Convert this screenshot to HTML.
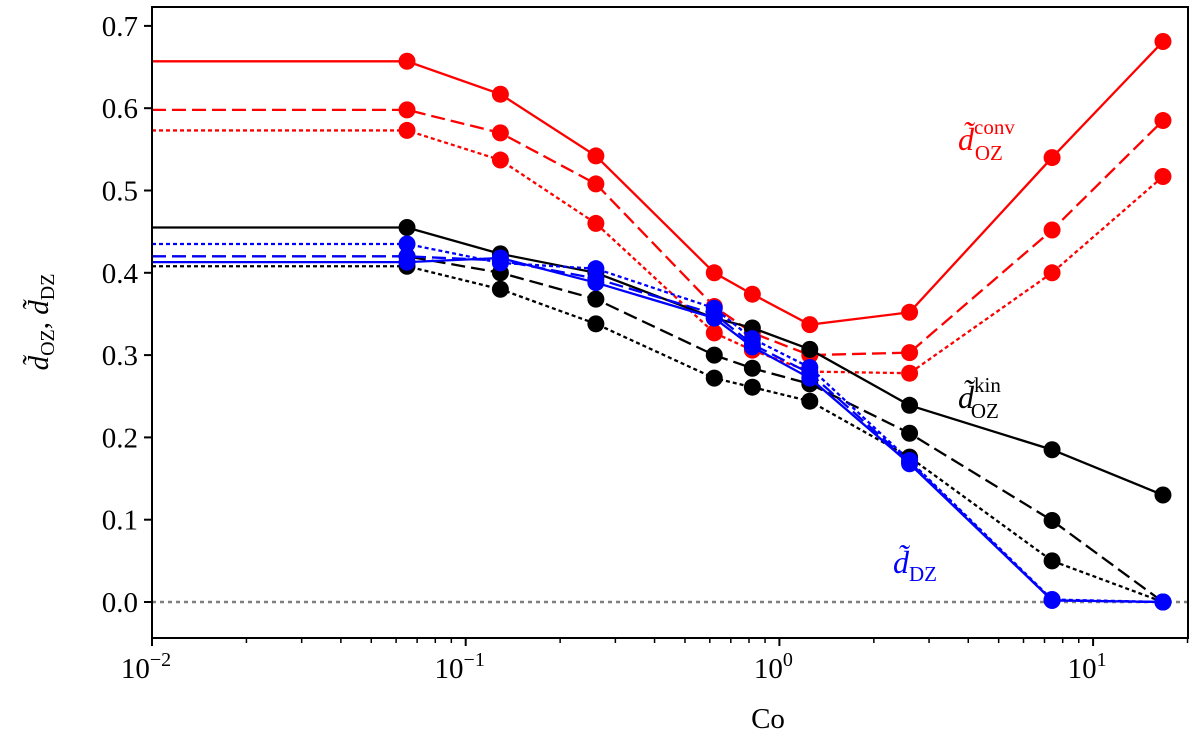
<!DOCTYPE html>
<html><head><meta charset="utf-8"><style>
body{margin:0;background:#fff;}
svg text{font-family:"Liberation Serif",serif;}
</style></head><body>
<svg id="chart" width="1200" height="741" xmlns="http://www.w3.org/2000/svg"></svg>
<script>
const co = [0.065, 0.129, 0.26, 0.62, 0.82, 1.25, 2.6, 7.4, 16.7];
const redSolid  = [0.657,0.617,0.542,0.400,0.374,0.337,0.352,0.540,0.681];
const redDashed = [0.598,0.570,0.508,0.359,0.327,0.300,0.303,0.452,0.585];
const redDotted = [0.573,0.537,0.460,0.327,0.306,0.280,0.278,0.400,0.517];
const blkSolid  = [0.455,0.423,0.400,0.345,0.333,0.307,0.239,0.185,0.130];
const blkDashed = [0.420,0.400,0.368,0.300,0.284,0.265,0.205,0.099,0.000];
const blkDotted = [0.408,0.380,0.338,0.272,0.261,0.244,0.176,0.050,0.000];
const bluSolid  = [0.413,0.418,0.388,0.345,0.310,0.272,0.168,0.002,0.000];
const bluDashed = [0.420,0.415,0.393,0.350,0.313,0.278,0.170,0.002,0.000];
const bluDotted = [0.435,0.412,0.405,0.357,0.320,0.285,0.172,0.003,0.000];
const yTicks = [0.0,0.1,0.2,0.3,0.4,0.5,0.6,0.7];
const yTickLabels = ["0.0","0.1","0.2","0.3","0.4","0.5","0.6","0.7"];
const xDecades = [-2,-1,0,1];

const NS="http://www.w3.org/2000/svg";
const svg=document.getElementById('chart');
const L=152,R=1188,T=7,B=638;
const xs=v=>L+(Math.log10(v)+2)*313.7;
const ys=v=>602-v*823;
function mk(tag,attrs,parent){const e=document.createElementNS(NS,tag);for(const k in attrs)e.setAttribute(k,attrs[k]);(parent||svg).appendChild(e);return e;}

const z=mk('line',{x1:L,x2:R,y1:ys(0),y2:ys(0),stroke:'#808080','stroke-width':2.5,'stroke-dasharray':'4,4'});



const series=[
 ['red-solid',redSolid,'#ff0000',''],['red-dashed',redDashed,'#ff0000','14,6'],['red-dotted',redDotted,'#ff0000','4,3'],
 ['black-solid',blkSolid,'#000',''],['black-dashed',blkDashed,'#000','14,6'],['black-dotted',blkDotted,'#000','4,3'],
 ['blue-solid',bluSolid,'#0000ff',''],['blue-dashed',bluDashed,'#0000ff','14,6'],['blue-dotted',bluDotted,'#0000ff','4,3']];
series.forEach(([name,vals,col,dash])=>{
  const g=mk('g',{});
  
  
  let d='M'+L+','+ys(vals[0]);
  vals.forEach((v,i)=>{d+=' L'+xs(co[i])+','+ys(v);});
  const p=mk('path',{d:d,fill:'none',stroke:col,'stroke-width':2.3,'stroke-dasharray':dash},g);
  
  
  vals.forEach((v,i)=>{
    const c=mk('circle',{cx:xs(co[i]),cy:ys(v),r:8.5,fill:col},g);
    
    
  });
});

const box=mk('rect',{x:L,y:T,width:R-L,height:B-T,fill:'none',stroke:'#000','stroke-width':2});



yTicks.forEach((v,i)=>{
  const y=ys(v);
  const t=mk('line',{x1:L-8,x2:L,y1:y,y2:y,stroke:'#000','stroke-width':2});
  
  
  const tx=mk('text',{x:L-14,y:y+10,'font-size':29,'text-anchor':'end'});
  tx.textContent=yTickLabels[i];
  
  
});
xDecades.forEach(dc=>{
  const x=xs(Math.pow(10,dc));
  const t=mk('line',{x1:x,x2:x,y1:B,y2:B+8,stroke:'#000','stroke-width':2});
  
  
  const tx=mk('text',{x:x-6,y:B+40,'font-size':29,'text-anchor':'middle'});
  tx.textContent='10';
  
  
  const sp=mk('tspan',{dy:-12,'font-size':20},tx);
  sp.textContent=String(dc).replace('-','\u2212');
  for(let m=2;m<=9;m++){
    const xm=xs(m*Math.pow(10,dc));
    if(xm>R)break;
    const mt=mk('line',{x1:xm,x2:xm,y1:B,y2:B+5,stroke:'#000','stroke-width':1.5});
    
    
  }
});
const xl=mk('text',{x:768,y:728,'font-size':29,'text-anchor':'middle'});
xl.textContent='Co';


const yl=mk('text',{x:0,y:0,'font-size':29,'text-anchor':'middle','font-style':'italic',transform:'translate(48,322) rotate(-90)'});
yl.innerHTML='d\u0303<tspan font-style="normal" font-size="20" dy="6">OZ</tspan><tspan dy="-6" font-style="normal">, </tspan>d\u0303<tspan font-style="normal" font-size="20" dy="6">DZ</tspan>';



function ann(x,y,col,sub,sup,name){
  const t=mk('text',{x:x,y:y,'font-size':32,fill:col,'font-style':'italic'});
  t.innerHTML='d\u0303'+(sup?'<tspan font-style="normal" font-size="21" dy="-16">'+sup+'</tspan><tspan font-style="normal" font-size="21" dx="-'+(sup.length*10)+'" dy="26">'+sub+'</tspan>':'<tspan font-style="normal" font-size="21" dy="8">'+sub+'</tspan>');
  
  
}
ann(958,150,'#ff0000','OZ','conv','label-conv');
ann(958,408,'#000','OZ','kin','label-kin');
ann(893,573,'#0000ff','DZ','','label-dz');
</script>
</body></html>
